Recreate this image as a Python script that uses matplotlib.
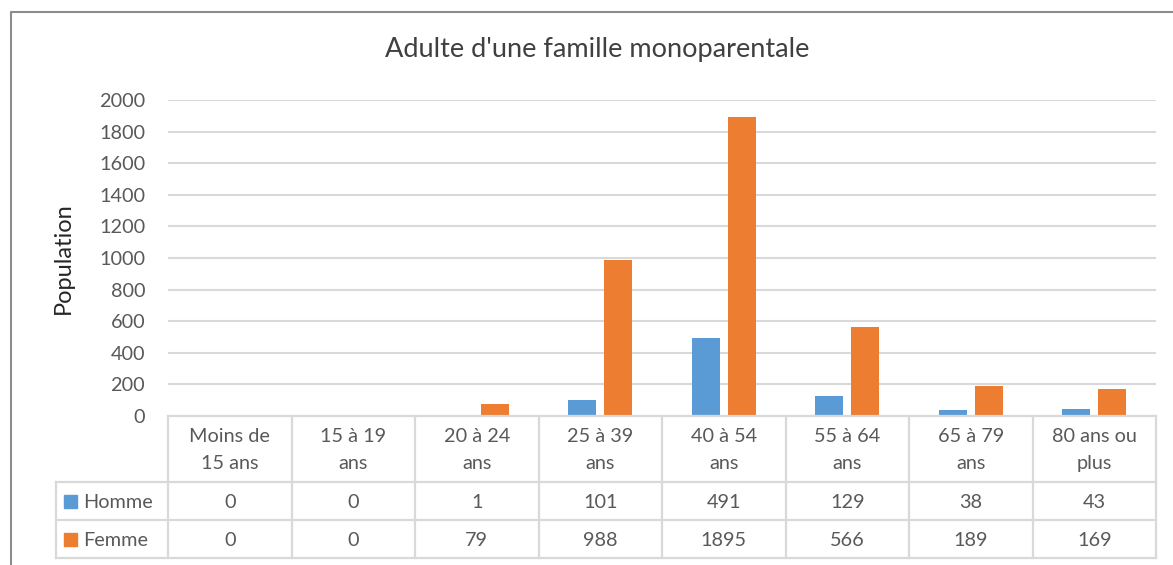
import numpy as np
import matplotlib.pyplot as plt

# data
categories = ["Moins de\n15 ans", "15 à 19\nans", "20 à 24\nans", "25 à 39\nans",
              "40 à 54\nans", "55 à 64\nans", "65 à 79\nans", "80 ans ou\nplus"]
series = ["Homme", "Femme"]
homme = [0, 0, 1, 101, 491, 129, 38, 43]
femme = [0, 0, 79, 988, 1895, 566, 189, 169]
colors = ["#5B9BD5", "#ED7D31"]
yticks = list(range(0, 2001, 200))

plt.rcParams['font.family'] = ['Lato', 'DejaVu Sans']
TXT = "#595959"
GRID = "#d9d9d9"
FS = 14.3

W, H = 1173, 565
fig = plt.figure(figsize=(W / 100, H / 100), dpi=100)


def fx(px):
    return px / W


def fy(py):
    return 1 - py / H


# main plot area
ax = fig.add_axes([fx(168), fy(416), fx(1156) - fx(168), fy(100) - fy(416)])
ax.patch.set_visible(False)
x = np.arange(len(categories))
bw, off = 0.227, 0.144
ax.bar(x - off, homme, width=bw, color=colors[0], zorder=3)
ax.bar(x + off, femme, width=bw, color=colors[1], zorder=3)
ax.set_xlim(-0.5, len(categories) - 0.5)
ax.set_ylim(yticks[0], yticks[-1])
ax.set_yticks(yticks)
ax.set_xticks([])
ax.yaxis.grid(True, color=GRID, lw=1.5, zorder=0)
for s in ax.spines.values():
    s.set_visible(False)
ax.tick_params(axis='y', length=0, pad=16.5, labelsize=FS, labelcolor=TXT)
ax.set_ylabel("Population", fontsize=17, color="#262626", labelpad=18)

fig.text(fx(597), fy(50), "Adulte d'une famille monoparentale", ha="center", va="center",
         fontsize=19.5, color="#404040")

# overlay in pixel coordinates for data table and frame
ov = fig.add_axes([0, 0, 1, 1])
ov.set_xlim(0, W)
ov.set_ylim(H, 0)
ov.axis("off")
ov.patch.set_visible(False)


def colpx(v):
    return ax.transData.transform((v, 0))[0]


bounds = [colpx(i - 0.5) for i in range(len(categories) + 1)]
left_lab = 56
top, head_b, r1_b, r2_b = 416, 482, 520, 558

lw_t = 1.6
ov.plot([bounds[0], bounds[-1]], [top, top], color=GRID, lw=lw_t)
for yy in (head_b, r1_b, r2_b):
    ov.plot([left_lab, bounds[-1]], [yy, yy], color=GRID, lw=lw_t)
ov.plot([left_lab, left_lab], [head_b, r2_b], color=GRID, lw=lw_t)
for b in bounds:
    ov.plot([b, b], [top, r2_b], color=GRID, lw=lw_t)

rows = [homme, femme]
row_mid = [(head_b + r1_b) / 2, (r1_b + r2_b) / 2]
for i, cat in enumerate(categories):
    cx = (bounds[i] + bounds[i + 1]) / 2
    ov.text(cx, (top + head_b) / 2 + 1, cat, ha="center", va="center", fontsize=FS,
            color=TXT, linespacing=1.65)
    for vals, ym in zip(rows, row_mid):
        ov.text(cx, ym + 1, str(vals[i]), ha="center", va="center", fontsize=FS,
                color=TXT)

for name, c, ym in zip(series, colors, row_mid):
    ov.add_patch(plt.Rectangle((64, ym - 6.5), 13, 13, color=c))
    ov.text(83, ym + 1, name, ha="left", va="center", fontsize=FS, color=TXT)

# outer chart frame
ov.plot([11, 11, W], [H, 12, 12], color="#8c8c8c", lw=1.5)

fig.savefig("out.png", dpi=100)
